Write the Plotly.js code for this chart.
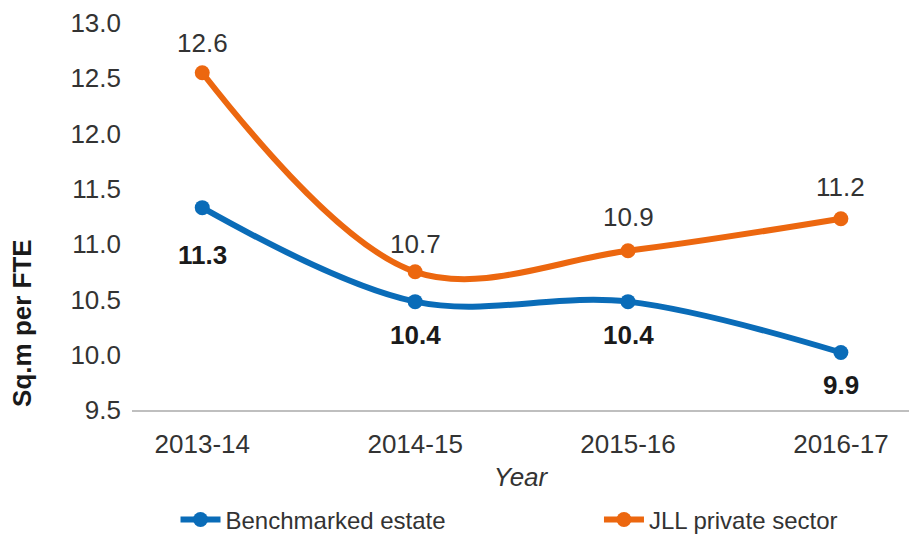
<!DOCTYPE html>
<html>
<head>
<meta charset="utf-8">
<script src="https://cdn.plot.ly/plotly-3.0.1.min.js"></script>
<style>html,body{margin:0;padding:0;background:#fff;}#chart{width:909px;height:535px;}</style>
</head>
<body>
<div id="chart"></div>
<script>
const years = ["2013-14", "2014-15", "2015-16", "2016-17"];
const benchmarked = [11.33, 10.48, 10.48, 10.02];
const benchmarkedLabels = ["11.3", "10.4", "10.4", "9.9"];
const jll = [12.55, 10.75, 10.94, 11.23];
const jllLabels = ["12.6", "10.7", "10.9", "11.2"];
const yTitle = "Sq.m per FTE";
const xTitle = "Year";

const BLUE = "#0A6CB8";
const ORANGE = "#EC670F";
const FONT = "Liberation Sans, Arial, sans-serif";

// label offsets (style only)
const blueShift = [-47, -33, -33, -32];
const orangeShift = [30, 28, 34, 32];

const traces = [
  {
    x: years, y: benchmarked, name: "Benchmarked estate", type: "scatter", mode: "lines+markers",
    legend: "legend",
    line: {color: BLUE, width: 6, shape: "spline", smoothing: 1},
    marker: {color: BLUE, size: 15}
  },
  {
    x: years, y: jll, name: "JLL private sector", type: "scatter", mode: "lines+markers",
    legend: "legend2",
    line: {color: ORANGE, width: 6, shape: "spline", smoothing: 1},
    marker: {color: ORANGE, size: 15}
  }
];

const annotations = [];
years.forEach((yr, i) => {
  annotations.push({x: yr, y: benchmarked[i], text: "<b>" + benchmarkedLabels[i] + "</b>", showarrow: false,
    yshift: blueShift[i], font: {family: FONT, size: 26, color: "#1a1a1a"}});
  annotations.push({x: yr, y: jll[i], text: jllLabels[i], showarrow: false,
    yshift: orangeShift[i], font: {family: FONT, size: 26, color: "#333333"}});
});
// y-axis title (placed low, as in the reference)
annotations.push({xref: "paper", yref: "paper", x: -0.1416, y: 0.225, xanchor: "center", yanchor: "middle",
  text: "<b>" + yTitle + "</b>", textangle: -90, showarrow: false,
  font: {family: FONT, size: 26, color: "#1a1a1a"}});

const legendFont = {family: FONT, size: 24, color: "#333333"};

const layout = {
  width: 909, height: 535,
  margin: {l: 132, r: 0, t: 23, b: 125, autoexpand: false},
  paper_bgcolor: "#ffffff", plot_bgcolor: "#ffffff",
  font: {family: FONT, size: 26, color: "#333333"},
  showlegend: true,
  legend: {orientation: "h", x: 0.056, xanchor: "left", y: -0.284, yanchor: "middle",
    font: legendFont, bgcolor: "rgba(0,0,0,0)", itemwidth: 40},
  legend2: {orientation: "h", x: 0.601, xanchor: "left", y: -0.284, yanchor: "middle",
    font: legendFont, bgcolor: "rgba(0,0,0,0)", itemwidth: 40},
  xaxis: {
    type: "category", range: [-0.33, 3.32], showgrid: false, zeroline: false,
    showline: true, linecolor: "#bfbfbf", linewidth: 2, ticks: "", ticklabelstandoff: 10,
    tickfont: {family: FONT, size: 26, color: "#333333"},
    title: {text: "<i>" + xTitle + "</i>", font: {family: FONT, size: 26, color: "#333333"}, standoff: 10}
  },
  yaxis: {
    range: [9.5, 13.0], dtick: 0.5, tick0: 9.5, tickformat: ".1f", showgrid: false, zeroline: false,
    showline: false, ticks: "", ticklabelstandoff: 10,
    tickfont: {family: FONT, size: 26, color: "#333333"}
  },
  annotations: annotations
};

Plotly.newPlot("chart", traces, layout, {displayModeBar: false, staticPlot: true});
</script>
</body>
</html>
